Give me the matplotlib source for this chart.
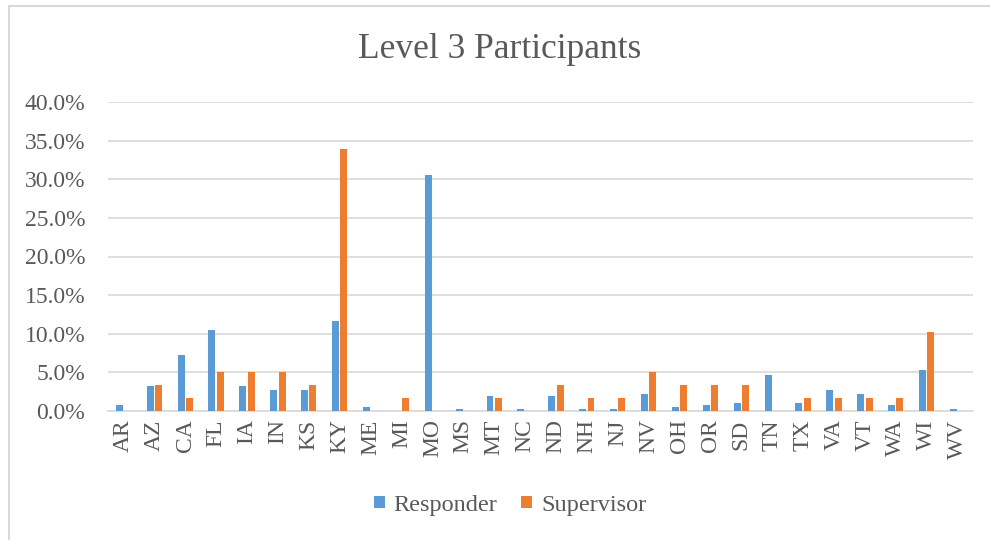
import matplotlib
matplotlib.use("Agg")
import matplotlib.pyplot as plt
import numpy as np
from matplotlib.patches import Rectangle
from matplotlib.ticker import FuncFormatter, MultipleLocator

states = ["AR", "AZ", "CA", "FL", "IA", "IN", "KS", "KY", "ME", "MI", "MO", "MS", "MT", "NC",
          "ND", "NH", "NJ", "NV", "OH", "OR", "SD", "TN", "TX", "VA", "VT", "WA", "WI", "WV"]
responder = [0.8, 3.3, 7.2, 10.5, 3.3, 2.7, 2.7, 11.6, 0.55, 0.0, 30.5, 0.28, 1.9, 0.28,
             1.9, 0.28, 0.28, 2.2, 0.55, 0.83, 1.1, 4.7, 1.1, 2.7, 2.2, 0.83, 5.3, 0.28]
supervisor = [0.0, 3.39, 1.69, 5.08, 5.08, 5.08, 3.39, 33.9, 0.0, 1.69, 0.0, 0.0, 1.69, 0.0,
              3.39, 1.69, 1.69, 5.08, 3.39, 3.39, 3.39, 0.0, 1.69, 1.69, 1.69, 1.69, 10.17, 0.0]

BLUE = "#5B9BD5"
ORANGE = "#ED7D31"
GRID = "#D9D9D9"
TXT = "#595959"
FONT = ["Liberation Serif", "DejaVu Serif"]

plt.rcParams["font.family"] = FONT

fig = plt.figure(figsize=(9.9, 5.4), dpi=100)
ax = fig.add_axes([108 / 990, 1 - 411 / 540, (973 - 108) / 990, (411 - 102) / 540])

x = np.arange(len(states))
w = 0.225
off = 0.135
ax.bar(x - off, responder, width=w, color=BLUE, label="Responder", zorder=3)
ax.bar(x + off, supervisor, width=w, color=ORANGE, label="Supervisor", zorder=3)

ax.set_xlim(-0.5, len(states) - 0.5)
ax.set_ylim(0, 40)
ax.yaxis.set_major_locator(MultipleLocator(5))
ax.yaxis.set_major_formatter(FuncFormatter(lambda v, p: f"{v:.1f}%"))
ax.grid(axis="y", color=GRID, linewidth=1.2, zorder=0)
ax.set_axisbelow(True)
for s in ["top", "right", "left"]:
    ax.spines[s].set_visible(False)
ax.spines["bottom"].set_color(GRID)
ax.spines["bottom"].set_linewidth(1.2)

ax.set_xticks(x)
ax.set_xticklabels(states, rotation=90, fontsize=17, color=TXT, va="top", ha="center")
ax.tick_params(axis="x", length=0, pad=6)
ax.tick_params(axis="y", length=0, pad=16.5, labelsize=17, labelcolor=TXT)

fig.text(500 / 990, 1 - 49 / 540, "Level 3 Participants", ha="center", va="center",
         fontsize=25.5, color=TXT)

leg = fig.legend(loc="center", bbox_to_anchor=(510 / 990, 1 - 505 / 540), ncol=2, frameon=False,
                 fontsize=17.5, handlelength=0.45, handleheight=0.4, handletextpad=0.35,
                 columnspacing=1.0)
for t in leg.get_texts():
    t.set_color(TXT)

fig.patches.append(Rectangle((8.5 / 990, -0.05), 1.2, 1 - 6 / 540 + 0.05,
                             transform=fig.transFigure, fill=False, edgecolor=GRID,
                             linewidth=1.5))

fig.savefig("out.png", dpi=100)
